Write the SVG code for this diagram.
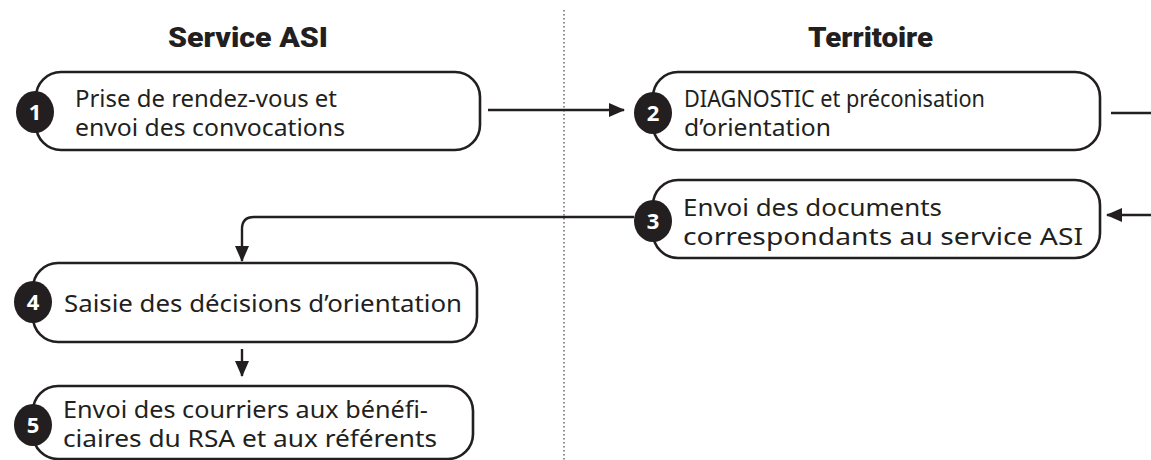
<svg xmlns="http://www.w3.org/2000/svg" width="1151" height="460" viewBox="0 0 1151 460">
<style>
.box{fill:#fff;stroke:#231f20;stroke-width:2.6}
.badge{fill:#231f20}
.num{font-family:"Noto Sans","Liberation Sans",sans-serif;font-weight:700;font-size:22px;fill:#fff;text-anchor:middle}
.t{font-family:"Noto Sans","Liberation Sans",sans-serif;font-size:23px;fill:#231f20}
.h{font-family:Roboto,"Liberation Sans",sans-serif;font-weight:900;font-size:27px;fill:#231f20}
.c{fill:none;stroke:#231f20;stroke-width:2.4}
</style>
<defs>
<marker id="ah" markerUnits="userSpaceOnUse" markerWidth="16" markerHeight="14" refX="15" refY="7" orient="auto">
<path d="M0,0 L16,7 L0,14 Z" fill="#231f20"/>
</marker>
</defs>
<line x1="564" y1="10" x2="564" y2="460" stroke="#231f20" stroke-width="1" stroke-dasharray="1.5,2.5"/>
<text class="h" x="168" y="47" textLength="160" lengthAdjust="spacingAndGlyphs">Service ASI</text>
<text class="h" x="808" y="47" textLength="125" lengthAdjust="spacingAndGlyphs">Territoire</text>
<g id="connectors">
<line class="c" x1="488" y1="110" x2="624" y2="110" marker-end="url(#ah)"/>
<line class="c" x1="1111" y1="113" x2="1151" y2="113"/>
<line class="c" x1="1151" y1="215" x2="1107" y2="215" marker-end="url(#ah)"/>
<path class="c" d="M634,217 H254 Q242,217 242,229 V261" marker-end="url(#ah)"/>
<path class="c" d="M242,349 V376" marker-end="url(#ah)"/>
</g>
<g id="n1">
<rect class="box" x="36" y="72" width="444" height="78" rx="25"/>
<ellipse class="badge" cx="35" cy="112" rx="19" ry="21"/>
<text class="num" x="35" y="120">1</text>
<text class="t" x="75" y="107" textLength="262" lengthAdjust="spacingAndGlyphs">Prise de rendez-vous et</text>
<text class="t" x="75" y="136" textLength="270" lengthAdjust="spacingAndGlyphs">envoi des convocations</text>
</g>
<g id="n2">
<rect class="box" x="653" y="72" width="447" height="78" rx="25"/>
<ellipse class="badge" cx="653" cy="113" rx="19" ry="21"/>
<text class="num" x="653" y="121">2</text>
<text class="t" x="684" y="107" textLength="301" lengthAdjust="spacingAndGlyphs">DIAGNOSTIC et préconisation</text>
<text class="t" x="684" y="136" textLength="147" lengthAdjust="spacingAndGlyphs">d’orientation</text>
</g>
<g id="n3">
<rect class="box" x="653" y="180" width="447" height="78" rx="25"/>
<ellipse class="badge" cx="653" cy="221" rx="19" ry="21"/>
<text class="num" x="653" y="229">3</text>
<text class="t" x="683" y="216" textLength="259" lengthAdjust="spacingAndGlyphs">Envoi des documents</text>
<text class="t" x="683" y="245" textLength="400" lengthAdjust="spacingAndGlyphs">correspondants au service ASI</text>
</g>
<g id="n4">
<rect class="box" x="33" y="263" width="444" height="79" rx="25"/>
<ellipse class="badge" cx="33" cy="302" rx="19" ry="21"/>
<text class="num" x="33" y="310">4</text>
<text class="t" x="64" y="312" textLength="398" lengthAdjust="spacingAndGlyphs">Saisie des décisions d’orientation</text>
</g>
<g id="n5">
<rect class="box" x="33" y="386" width="440" height="73" rx="25"/>
<ellipse class="badge" cx="33" cy="425" rx="19" ry="21"/>
<text class="num" x="33" y="433">5</text>
<text class="t" x="63" y="418" textLength="365" lengthAdjust="spacingAndGlyphs">Envoi des courriers aux bénéfi-</text>
<text class="t" x="63" y="447" textLength="374" lengthAdjust="spacingAndGlyphs">ciaires du RSA et aux référents</text>
</g>
</svg>
